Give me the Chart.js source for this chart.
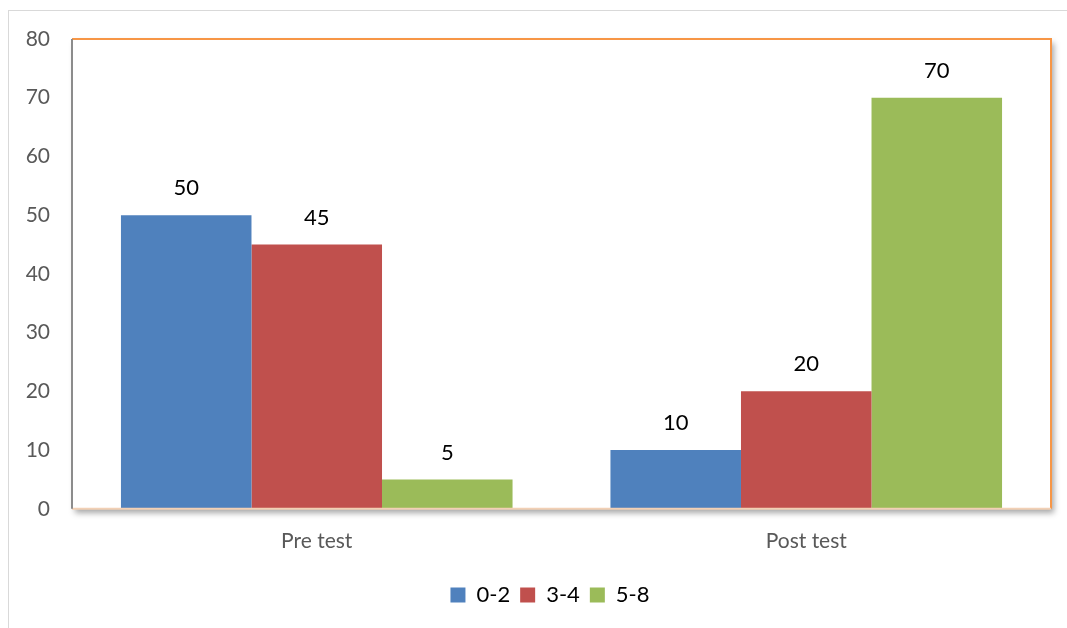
<!DOCTYPE html>
<html>
<head>
<meta charset="utf-8">
<script src="https://cdn.jsdelivr.net/npm/chart.js@4/dist/chart.umd.min.js"></script>
<style>
    html, body { margin: 0; padding: 0; background: #fff; }
    #frame {
        position: absolute;
        left: 8px;
        top: 10px;
        width: 1058px;
        height: 617px;
        border-left: 1px solid #d9d9d9;
        border-top: 1px solid #d9d9d9;
    }
    #chart { display: block; }
</style>
</head>
<body>
<div id="frame"><canvas id="chart" width="1058" height="617"></canvas></div>
<script>
/* ===============================
   DATA
=================================*/

const categories = ["Pre test", "Post test"];
const seriesNames = ["0-2", "3-4", "5-8"];
const seriesColors = ["#4F81BD", "#C0504D", "#9BBB59"];
const values02 = [50, 10];
const values34 = [45, 20];
const values58 = [5, 70];
const yTicks = [0, 10, 20, 30, 40, 50, 60, 70, 80];

const FONT = "Lato, 'Open Sans', sans-serif";

/* ===============================
   PLUGINS
=================================*/

// plot area background with a soft shadow, drawn under the bars
const plotBackground = {
    id: "plotBackground",
    beforeDatasetsDraw(chart) {
        const { ctx, chartArea: a } = chart;
        ctx.save();
        ctx.shadowColor = "rgba(0,0,0,0.35)";
        ctx.shadowBlur = 6;
        ctx.shadowOffsetX = 3;
        ctx.shadowOffsetY = 4;
        ctx.fillStyle = "#fff";
        ctx.fillRect(a.left, a.top, a.right - a.left, a.bottom - a.top);
        ctx.restore();
    }
};

// border of plot area: orange top/right, grey left, peach bottom
const plotBorder = {
    id: "plotBorder",
    afterDatasetsDraw(chart) {
        const { ctx, chartArea: a } = chart;
        ctx.save();
        ctx.lineWidth = 2;

        ctx.strokeStyle = "#F79646";
        ctx.beginPath();
        ctx.moveTo(a.left, a.top);
        ctx.lineTo(a.right, a.top);
        ctx.lineTo(a.right, a.bottom);
        ctx.stroke();

        ctx.strokeStyle = "#F2D0B5";
        ctx.beginPath();
        ctx.moveTo(a.left, a.bottom);
        ctx.lineTo(a.right, a.bottom);
        ctx.stroke();

        ctx.strokeStyle = "#8C8C8C";
        ctx.beginPath();
        ctx.moveTo(a.left, a.top);
        ctx.lineTo(a.left, a.bottom);
        ctx.stroke();
        ctx.restore();
    }
};

// value labels above each bar
const barLabels = {
    id: "barLabels",
    afterDatasetsDraw(chart) {
        const { ctx } = chart;
        ctx.save();
        ctx.font = "22px " + FONT;
        ctx.fillStyle = "#000";
        ctx.textAlign = "center";
        ctx.textBaseline = "middle";
        chart.data.datasets.forEach((ds, i) => {
            const meta = chart.getDatasetMeta(i);
            meta.data.forEach((bar, j) => {
                ctx.fillText(String(ds.data[j]), bar.x, bar.y - 27);
            });
        });
        ctx.restore();
    }
};

// legend in the original sits a bit right of centre
const legendShift = {
    id: "legendShift",
    afterLayout(chart) {
        if (!chart.legend) return;
        chart.legend.left += 20;
        chart.legend.right += 20;
    }
};

/* ===============================
   CHART
=================================*/

const allValues = [values02, values34, values58];

new Chart(document.getElementById("chart"), {
    type: "bar",
    data: {
        labels: categories,
        datasets: seriesNames.map((name, i) => ({
            label: name,
            data: allValues[i],
            backgroundColor: seriesColors[i],
            borderWidth: 0,
            barPercentage: 1,
            categoryPercentage: 0.8
        }))
    },
    options: {
        responsive: false,
        animation: false,
        layout: { padding: { top: 28, right: 16, left: 0, bottom: 12 } },
        scales: {
            x: {
                grid: { display: false, drawTicks: false },
                border: { display: false },
                ticks: {
                    color: "#595959",
                    font: { family: FONT, size: 21 },
                    padding: 20
                }
            },
            y: {
                min: 0,
                max: 80,
                afterFit(scale) {
                    scale.width = 63;
                    scale.paddingTop = 10;
                    scale.paddingBottom = 10;
                },
                afterBuildTicks(scale) {
                    scale.ticks = yTicks.map(v => ({ value: v }));
                },
                grid: { display: false, drawTicks: false },
                border: { display: false },
                ticks: {
                    color: "#595959",
                    font: { family: FONT, size: 21 },
                    padding: 22
                }
            }
        },
        plugins: {
            legend: {
                position: "bottom",
                labels: {
                    boxWidth: 15,
                    boxHeight: 15,
                    padding: 10,
                    color: "#000",
                    font: { family: FONT, size: 22 }
                }
            },
            tooltip: { enabled: false }
        }
    },
    plugins: [plotBackground, plotBorder, barLabels, legendShift]
});
</script>
</body>
</html>
